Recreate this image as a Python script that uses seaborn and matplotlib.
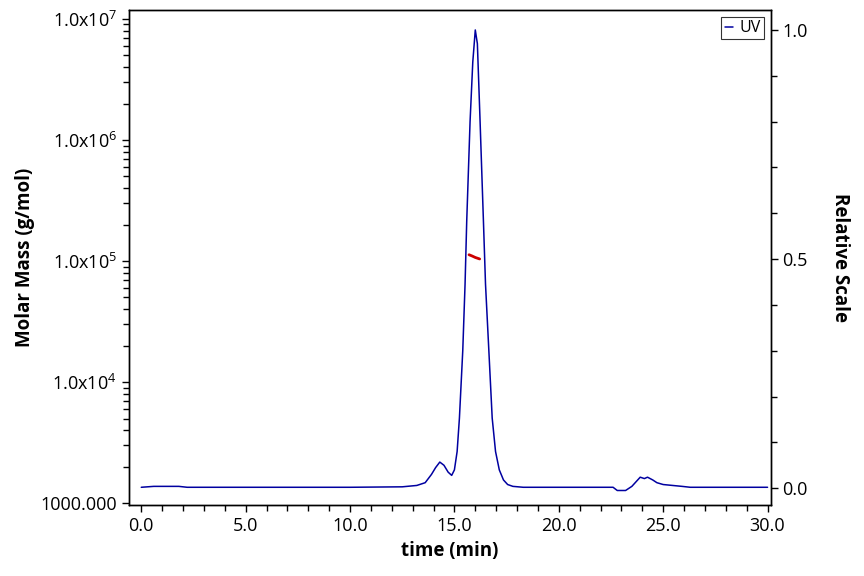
import numpy as np
import pandas as pd
import matplotlib
matplotlib.use("Agg")
import matplotlib.pyplot as plt
import seaborn as sns
from matplotlib.ticker import FixedLocator, MultipleLocator, LogLocator, NullFormatter

# UV trace (relative scale)
uv_time = [0.0, 0.6, 1.0, 1.8, 2.2, 5.0, 10.0, 12.5, 13.2, 13.6, 13.9, 14.1, 14.3, 14.5,
           14.7, 14.87, 15.0, 15.13, 15.24, 15.40, 15.51, 15.59, 15.75, 15.88, 16.0, 16.1,
           16.23, 16.39, 16.49, 16.65, 16.81, 16.97, 17.15, 17.35, 17.55, 17.8, 18.3, 22.6,
           22.8, 23.2, 23.5, 23.9, 24.1, 24.25, 24.5, 24.7, 25.0, 25.9, 26.3, 30.0]
uv_value = [0.002, 0.004, 0.004, 0.004, 0.002, 0.002, 0.002, 0.003, 0.006, 0.012, 0.03,
            0.045, 0.057, 0.05, 0.035, 0.028, 0.04, 0.08, 0.153, 0.30, 0.445, 0.583, 0.80,
            0.93, 1.0, 0.97, 0.80, 0.583, 0.445, 0.30, 0.153, 0.08, 0.04, 0.018, 0.008,
            0.004, 0.002, 0.002, -0.005, -0.005, 0.004, 0.024, 0.021, 0.024, 0.018, 0.012,
            0.008, 0.004, 0.002, 0.002]

# molar mass across the peak
mm_time = [15.70, 15.85, 16.0, 16.21]
mm_value = [1.127e5, 1.10e5, 1.07e5, 1.04e5]

log_ticks = [1e3, 1e4, 1e5, 1e6, 1e7]
log_labels = ["1000.000", r"1.0x10$^{4}$", r"1.0x10$^{5}$", r"1.0x10$^{6}$", r"1.0x10$^{7}$"]

sns.set_style("ticks", {"text.color": "black", "axes.labelcolor": "black",
                        "xtick.color": "black", "ytick.color": "black",
                        "axes.edgecolor": "black"})
plt.rcParams['font.family'] = ['Open Sans', 'DejaVu Sans']
plt.rcParams['mathtext.fontset'] = 'custom'
plt.rcParams['mathtext.rm'] = 'Open Sans'

fig, ax = plt.subplots(figsize=(8.64, 5.76), dpi=100)
fig.subplots_adjust(left=0.149, right=0.892, bottom=0.123, top=0.983)
ax2 = ax.twinx()

# molar mass on the log axis
mm_df = pd.DataFrame({"time": mm_time, "mass": mm_value})
sns.lineplot(data=mm_df, x="time", y="mass", ax=ax, color="#cc0000", linewidth=2)
ax.set_yscale("log")
ax.set_ylim(962, 1.19e7)
ax.set_xlim(-0.6, 30.15)
ax.yaxis.set_major_locator(FixedLocator(log_ticks))
ax.set_yticklabels(log_labels)
ax.yaxis.set_minor_locator(LogLocator(base=10, subs=np.arange(2, 10)))
ax.yaxis.set_minor_formatter(NullFormatter())
ax.xaxis.set_major_locator(MultipleLocator(5))
ax.xaxis.set_minor_locator(MultipleLocator(1))
ax.xaxis.set_major_formatter(matplotlib.ticker.FormatStrFormatter("%.1f"))

# UV trace on the relative axis
uv_df = pd.DataFrame({"time": uv_time, "uv": uv_value})
sns.lineplot(data=uv_df, x="time", y="uv", ax=ax2, color="#0000a0", linewidth=1.1, label="UV")
ax2.set_ylim(-0.037, 1.044)
ax2.yaxis.set_major_locator(FixedLocator([0.0, 0.5, 1.0]))
ax2.yaxis.set_minor_locator(MultipleLocator(0.1))
ax2.yaxis.set_major_formatter(matplotlib.ticker.FormatStrFormatter("%.1f"))

for a in (ax, ax2):
    for s in a.spines.values():
        s.set_visible(True)
        s.set_linewidth(1.0)
        s.set_color("black")
ax.tick_params(axis="both", which="major", labelsize=13, length=5, width=1, color="black",
               labelcolor="black")
ax.tick_params(axis="both", which="minor", length=4, width=1, color="black")
ax2.tick_params(axis="y", which="major", labelsize=13, length=5, width=1, color="black",
                labelcolor="black")
ax2.tick_params(axis="y", which="minor", length=4, width=1, color="black")

ax.set_xlabel("time (min)", fontsize=13.5, fontweight="bold", labelpad=4, color="black")
ax.set_ylabel("Molar Mass (g/mol)", fontsize=13.5, fontweight="bold", labelpad=4, color="black")
ax2.set_ylabel("Relative Scale", fontsize=13.5, fontweight="bold", rotation=-90, labelpad=30,
               color="black")

leg = ax2.legend(loc="upper right", handlelength=0.5, handletextpad=0.4, fontsize=11.5,
                 frameon=True, fancybox=False, edgecolor="black", borderpad=0.2,
                 borderaxespad=0.45)
leg.get_frame().set_linewidth(0.8)
for t in leg.get_texts():
    t.set_color("black")

fig.savefig("out.png", dpi=100)
